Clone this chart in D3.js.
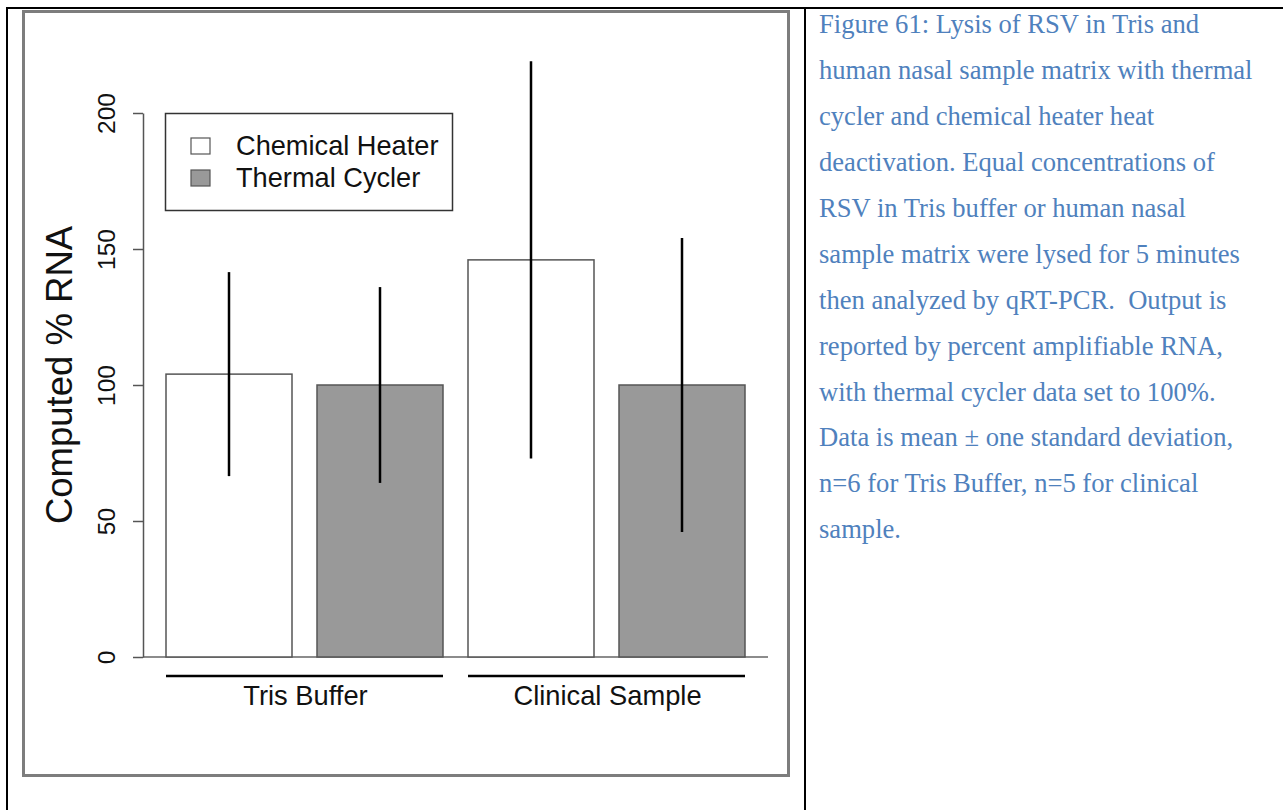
<!DOCTYPE html>
<html>
<head>
<meta charset="utf-8">
<script src="https://cdn.jsdelivr.net/npm/d3@7"></script>
<style>
  html, body { margin: 0; padding: 0; background: #fff; }
  svg { display: block; }
</style>
</head>
<body>
<svg id="page" width="1283" height="810"></svg>
<script>
// Sample groups and heat-deactivation methods
const groups = ["Tris Buffer", "Clinical Sample"];
const methods = ["Chemical Heater", "Thermal Cycler"];
const methodFills = ["#ffffff", "#999999"];

// Mean computed % RNA per group, one array per method
const chemicalHeaterMean = [104, 146];
const thermalCyclerMean = [100, 100];
// One standard deviation per group
const chemicalHeaterSD = [37.5, 73];
const thermalCyclerSD = [36, 54];

const yTicks = [0, 50, 100, 150, 200];
const yTitle = "Computed % RNA";

const captionLines = [
  "Figure 61: Lysis of RSV in Tris and",
  "human nasal sample matrix with thermal",
  "cycler and chemical heater heat",
  "deactivation. Equal concentrations of",
  "RSV in Tris buffer or human nasal",
  "sample matrix were lysed for 5 minutes",
  "then analyzed by qRT-PCR.  Output is",
  "reported by percent amplifiable RNA,",
  "with thermal cycler data set to 100%.",
  "Data is mean \u00b1 one standard deviation,",
  "n=6 for Tris Buffer, n=5 for clinical",
  "sample."
];

const means = [chemicalHeaterMean, thermalCyclerMean];
const sds = [chemicalHeaterSD, thermalCyclerSD];
const rows = [];
groups.forEach((g, gi) => methods.forEach((m, mi) => {
  rows.push({ group: g, method: m, mi, mean: means[mi][gi], sd: sds[mi][gi] });
}));

const svg = d3.select("#page");
const sans = "'Liberation Sans', Arial, sans-serif";
const serif = "'Liberation Serif', 'Times New Roman', serif";

// Table rules around the figure cell and caption cell
svg.append("line").attr("x1", 7).attr("x2", 1283).attr("y1", 8).attr("y2", 8)
  .attr("stroke", "#000").attr("stroke-width", 2);
svg.append("line").attr("x1", 7).attr("x2", 7).attr("y1", 7).attr("y2", 810)
  .attr("stroke", "#000").attr("stroke-width", 2);
svg.append("line").attr("x1", 805).attr("x2", 805).attr("y1", 7).attr("y2", 810)
  .attr("stroke", "#000").attr("stroke-width", 2);

// Frame of the embedded plot
svg.append("rect").attr("x", 23.5).attr("y", 11.5).attr("width", 765).attr("height", 764)
  .attr("fill", "#fff").attr("stroke", "#7d7d7d").attr("stroke-width", 3);

// Scales
const y = d3.scaleLinear().domain([0, 200]).range([657, 113]);
const x0 = d3.scaleBand().domain(groups).range([153.5, 757.5]).padding(0);
const pad = 25 / 151;
const x1 = d3.scaleBand().domain(methods).range([0, x0.bandwidth()])
  .paddingInner(pad).paddingOuter(pad / 2);

// Baseline under the bars
svg.append("line").attr("x1", 143).attr("x2", 768).attr("y1", y(0)).attr("y2", y(0))
  .attr("stroke", "#666").attr("stroke-width", 1.5);

// Bars
svg.append("g").selectAll("rect").data(rows).join("rect")
  .attr("x", d => x0(d.group) + x1(d.method))
  .attr("y", d => y(d.mean))
  .attr("width", x1.bandwidth())
  .attr("height", d => y(0) - y(d.mean))
  .attr("fill", d => methodFills[d.mi])
  .attr("stroke", "#555")
  .attr("stroke-width", 1.5);

// Error bars (mean ± SD)
svg.append("g").selectAll("line").data(rows).join("line")
  .attr("x1", d => x0(d.group) + x1(d.method) + x1.bandwidth() / 2)
  .attr("x2", d => x0(d.group) + x1(d.method) + x1.bandwidth() / 2)
  .attr("y1", d => y(d.mean - d.sd))
  .attr("y2", d => y(d.mean + d.sd))
  .attr("stroke", "#000").attr("stroke-width", 2.5);

// Y axis
const yAxis = svg.append("g").attr("transform", "translate(143,0)")
  .call(d3.axisLeft(y).tickValues(yTicks).tickSize(10).tickSizeOuter(0).tickPadding(0));
yAxis.select(".domain").attr("stroke", "#555").attr("stroke-width", 1.5);
yAxis.selectAll(".tick line").attr("stroke", "#555").attr("stroke-width", 1.5);
yAxis.selectAll(".tick text").remove();
yAxis.selectAll(".tick").append("text")
  .attr("transform", "translate(-28,0) rotate(-90)")
  .attr("text-anchor", "middle")
  .attr("fill", "#111")
  .style("font-family", sans).style("font-size", "24.5px")
  .text(d => d);

svg.append("text")
  .attr("transform", `translate(72,${(y(0) + y(200)) / 2 - 10}) rotate(-90)`)
  .attr("text-anchor", "middle")
  .attr("fill", "#111")
  .style("font-family", sans).style("font-size", "36.5px")
  .text(yTitle);

// Group underlines and names
const groupG = svg.append("g").selectAll("g").data(groups).join("g");
groupG.append("line")
  .attr("x1", g => x0(g) + x1(methods[0]))
  .attr("x2", g => x0(g) + x1(methods[methods.length - 1]) + x1.bandwidth())
  .attr("y1", 676).attr("y2", 676)
  .attr("stroke", "#000").attr("stroke-width", 2.5);
groupG.append("text")
  .attr("x", g => x0(g) + x0.bandwidth() / 2 + 1)
  .attr("y", 705)
  .attr("text-anchor", "middle")
  .attr("fill", "#111")
  .style("font-family", sans).style("font-size", "27.3px")
  .text(g => g);

// Legend
const legend = svg.append("g");
legend.append("rect").attr("x", 165.5).attr("y", 113.5).attr("width", 287).attr("height", 97)
  .attr("fill", "#fff").attr("stroke", "#333").attr("stroke-width", 1.5);
const item = legend.selectAll("g.item").data(methods).join("g")
  .attr("class", "item")
  .attr("transform", (d, i) => `translate(0,${155 + i * 32})`);
item.append("rect")
  .attr("x", 191).attr("y", -17).attr("width", 19).attr("height", 16)
  .attr("fill", (d, i) => methodFills[i])
  .attr("stroke", "#555").attr("stroke-width", 1.2);
item.append("text")
  .attr("x", 236).attr("y", 0)
  .attr("fill", "#111")
  .style("font-family", sans).style("font-size", "27.2px")
  .text(d => d);

// Caption
svg.append("g").selectAll("text").data(captionLines).join("text")
  .attr("x", 819)
  .attr("y", (d, i) => 33.3 + i * 45.9)
  .attr("fill", "#4f81bd")
  .attr("xml:space", "preserve")
  .style("white-space", "pre")
  .style("font-family", serif).style("font-size", "26.6px")
  .text(d => d);
</script>
</body>
</html>
